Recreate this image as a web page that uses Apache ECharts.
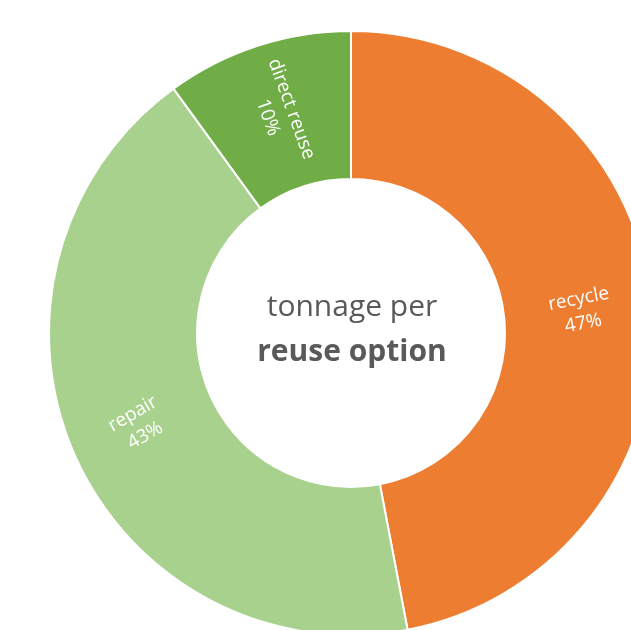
<!DOCTYPE html>
<html>
<head>
<meta charset="utf-8">
<script src="https://cdn.jsdelivr.net/npm/echarts@6/dist/echarts.min.js"></script>
<style>html,body{margin:0;padding:0;background:#fff;}#c{width:631px;height:630px;}</style>
</head>
<body>
<div id="c"></div>
<script>
const categories = ['recycle', 'repair', 'direct reuse'];
const values = [47, 43, 10];
const colors = ['#ED7D31', '#A9D18E', '#70AD47'];
const labelRotations = [11, 30, -70];
const centerLines = ['tonnage per', 'reuse option'];

const chart = echarts.init(document.getElementById('c'));
chart.setOption({
  animation: false,
  backgroundColor: '#ffffff',
  graphic: [
    { type: 'text', x: 352, y: 307, style: { text: centerLines[0], fill: '#595959', font: '30px "Open Sans"', textAlign: 'center', textVerticalAlign: 'middle' } },
    { type: 'text', x: 352, y: 352, style: { text: centerLines[1], fill: '#595959', font: 'bold 30px "Open Sans"', textAlign: 'center', textVerticalAlign: 'middle' } }
  ],
  series: [{
    type: 'pie',
    center: [351, 333],
    radius: [154, 302],
    startAngle: 90,
    clockwise: true,
    silent: true,
    itemStyle: { borderColor: '#ffffff', borderWidth: 2 },
    label: {
      position: 'inside',
      formatter: function (p) { return p.name + '\n' + Math.round(p.percent) + '%'; },
      color: '#ffffff',
      fontFamily: 'Open Sans',
      fontSize: 19,
      lineHeight: 25
    },
    labelLine: { show: false },
    data: categories.map((c, i) => ({
      name: c,
      value: values[i],
      itemStyle: { color: colors[i] },
      label: { rotate: labelRotations[i] }
    }))
  }]
});
</script>
</body>
</html>
